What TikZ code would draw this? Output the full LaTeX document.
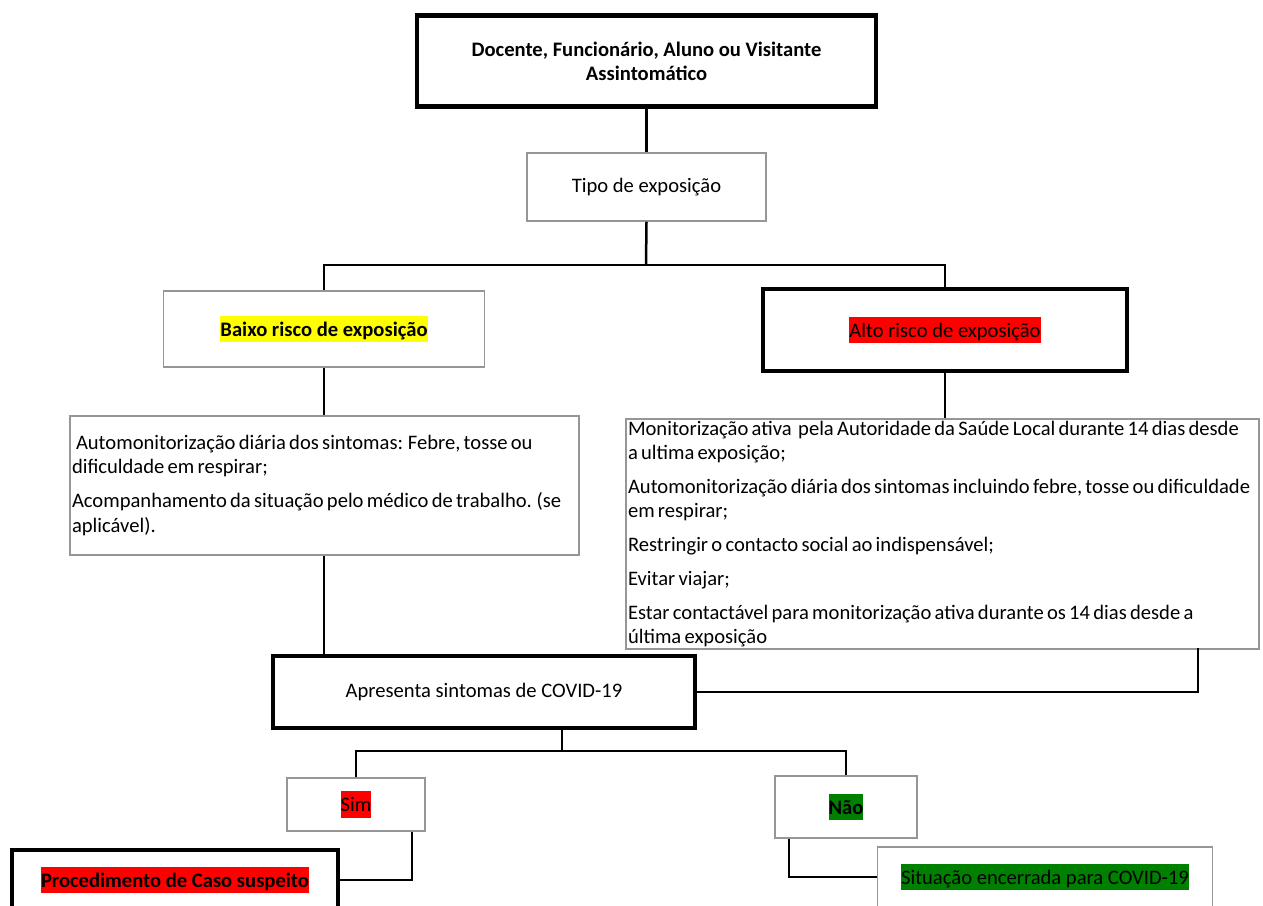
\documentclass[tikz,border=0pt]{standalone}
\usepackage{fontspec}
\setmainfont{Carlito}
\newfontfamily\corpo[WordSpace=0.7]{Carlito}
\usetikzlibrary{positioning}
\definecolor{boxgray}{RGB}{150,150,150}
\definecolor{hlred}{RGB}{255,0,0}
\definecolor{hlgreen}{RGB}{0,128,0}
\definecolor{hlyellow}{RGB}{255,255,0}
\newcommand{\tam}{\fontsize{20.6}{24}\selectfont}
\newcommand{\marca}[2]{{\setlength{\fboxsep}{0pt}\colorbox{#1}{\rule[-0.3em]{0pt}{1.3em}#2}}}
\tikzset{
  thinbox/.style={draw=boxgray, line width=1.5pt, inner sep=2pt},
  thickbox/.style={draw=black, line width=4.5pt, inner sep=2pt},
  txt/.style={font=\tam},
  txtb/.style={font=\tam\bfseries},
  lista/.style={font=\corpo\tam, align=flush left},
  link/.style={draw=black, line width=2.5pt}
}
\begin{document}
\begin{tikzpicture}[x=1pt,y=-1pt]
\useasboundingbox (0,0) rectangle (1263,905);

\node[thickbox, txtb, align=center, minimum width=459, minimum height=91] (pessoa) at (646.5,61)
  {Docente, Funcionário, Aluno ou Visitante\\Assintomático};

\node[thinbox, txt, minimum width=239, minimum height=68] (tipo) at (646.5,187) {Tipo de exposição};

\node[thinbox, txtb, minimum width=321, minimum height=76] (baixo) at (324,329) {\marca{hlyellow}{Baixo risco de exposição}};
\node[thickbox, txt, minimum width=364, minimum height=82] (alto) at (945,330) {\marca{hlred}{Alto risco de exposição}};

\node[thinbox, lista, text width=505, minimum height=139] (esq) at (324.5,485.5)
  {\hspace{4pt}Automonitorização diária dos sintomas: Febre, tosse ou\\
   dificuldade em respirar;\\[10pt]
   Acompanhamento da situação pelo médico de trabalho. (se\\
   aplicável).};

\node[thinbox, lista, text width=629, minimum height=228] (dir) at (942.5,534)
  {Monitorização ativa \ pela Autoridade da Saúde Local durante 14 dias desde\\
   a ultima exposição;\\[10pt]
   Automonitorização diária dos sintomas incluindo febre, tosse ou dificuldade\\
   em respirar;\\[10pt]
   Restringir o contacto social ao indispensável;\\[10pt]
   Evitar viajar;\\[10pt]
   Estar contactável para monitorização ativa durante os 14 dias desde a\\
   última exposição};

\node[thickbox, txt, minimum width=422, minimum height=72] (apresenta) at (484,692) {Apresenta sintomas de COVID-19};

\node[thinbox, txt, minimum width=138, minimum height=53] (sim) at (356,804.5) {\marca{hlred}{Sim}};
\node[thinbox, txtb, minimum width=142, minimum height=62] (nao) at (846,807) {\marca{hlgreen}{Não}};

\node[thickbox, txtb, minimum width=326, minimum height=60] (proc) at (175,880) {\marca{hlred}{Procedimento de Caso suspeito}};
\node[thinbox, txt, minimum width=335, minimum height=60] (sit) at (1045,877) {\marca{hlgreen}{Situação encerrada para COVID-19}};

\coordinate (juncao1) at (646,265);
\coordinate (juncao2) at (562,751);
\coordinate (dirsaida) at (1198,648);

\draw[link] (pessoa.south) -- (tipo.north);
\draw[link] (tipo.south) -- (juncao1);
\draw[link] (baixo.north) |- (juncao1) -| (alto.north);
\draw[link] (baixo.south) -- (baixo.south |- esq.north);
\draw[link] (alto.south) -- (alto.south |- dir.north);
\draw[link] (esq.south -| baixo.south) -- (apresenta.north -| baixo.south);
\draw[link] (dirsaida) |- (apresenta.east);
\draw[link] (apresenta.south -| juncao2) -- (juncao2);
\draw[link] (sim.north) |- (juncao2) -| (nao.north);
\draw[link] ([xshift=56]sim.south) |- (proc.east);
\draw[link] ([xshift=-57]nao.south) |- (sit.west);
\end{tikzpicture}
\end{document}
